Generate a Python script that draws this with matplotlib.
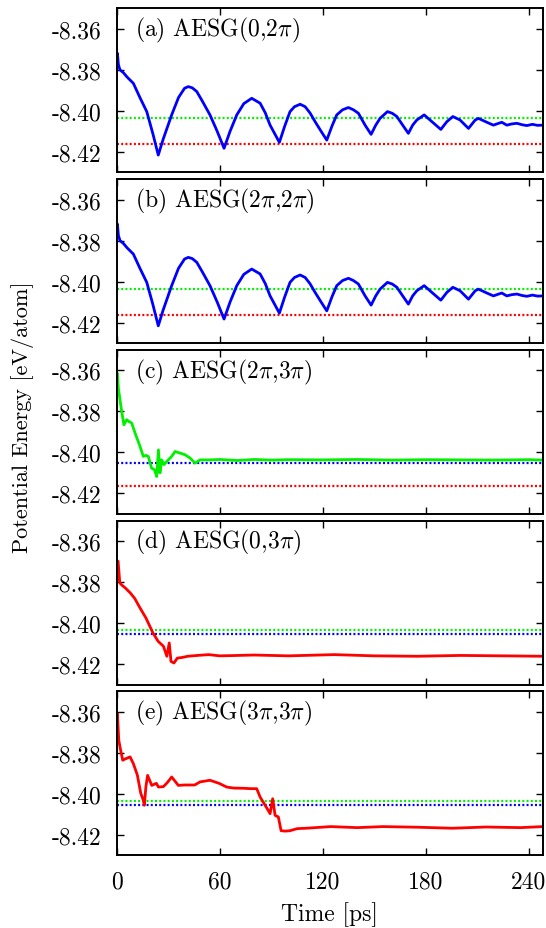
import numpy as np
import matplotlib
matplotlib.use('Agg')
import matplotlib.pyplot as plt

plt.rcParams['font.family'] = 'cmr10'
plt.rcParams['mathtext.fontset'] = 'cm'
plt.rcParams['axes.unicode_minus'] = False

# values (time in ps, energy in eV/atom)
time_ab = [0, 0.4, 1.0, 1.9, 4, 6, 9.7, 13.5, 17.5, 21, 24.2, 27, 32, 36, 39.5, 41.7, 44, 46.6,
           50, 54.3, 58.5, 62.5, 66, 69.9, 74, 78.6, 83.5, 86.5, 89.3, 92.2, 94.7, 97.8, 100.9,
           103.5, 106.8, 109.7, 112.5, 115.5, 119, 122.3, 125.3, 128.1, 131.5, 134.9, 137.8,
           140.7, 144.6, 148.1, 150.8, 153.3, 157.6, 160.4, 163.1, 166.5, 169.8, 172.3, 174.7,
           179, 183.5, 188.7, 192.2, 195.7, 199.9, 204.8, 208.7, 210.6, 215.5, 219.3, 222,
           224.2, 227.1, 230, 233, 236, 238.8, 242, 245, 248]
energy_a = [-8.3740, -8.3719, -8.3775, -8.3800, -8.3815, -8.3835, -8.3866, -8.3935, -8.4004,
            -8.4110, -8.4216, -8.4140, -8.4020, -8.3935, -8.3890, -8.3882, -8.3888, -8.3906,
            -8.3955, -8.4020, -8.4100, -8.4183, -8.4100, -8.4020, -8.3965, -8.3939, -8.3963,
            -8.4010, -8.4070, -8.4115, -8.4154, -8.4075, -8.4004, -8.3980, -8.3968, -8.3980,
            -8.4010, -8.4053, -8.4100, -8.4143, -8.4075, -8.4020, -8.3995, -8.3984, -8.3995,
            -8.4012, -8.4070, -8.4115, -8.4070, -8.4037, -8.4004, -8.4012, -8.4028, -8.4070,
            -8.4110, -8.4070, -8.4045, -8.4020, -8.4053, -8.4091, -8.4053, -8.4028, -8.4045,
            -8.4086, -8.4045, -8.4037, -8.4056, -8.4070, -8.4062, -8.4056, -8.4070, -8.4064,
            -8.4061, -8.4068, -8.4072, -8.4066, -8.4071, -8.4070]
energy_b = list(energy_a)

time_c = [0, 0.35, 1.0, 1.9, 2.9, 4.2, 5.8, 7.2, 8.7, 10.7, 13.6, 15.5, 17, 18.4, 20.3, 22,
          23.3, 24.3, 25.2, 26.2, 27.5, 29.1, 32, 34, 36.9, 39.8, 42.7, 45.6, 48.5, 54.3, 60,
          70, 80, 90, 100, 120, 140, 160, 180, 200, 220, 240, 248]
energy_c = [-8.3640, -8.3613, -8.3690, -8.3743, -8.3800, -8.3866, -8.3841, -8.3850, -8.3857,
            -8.3906, -8.3972, -8.4020, -8.4015, -8.4020, -8.4077, -8.4085, -8.4118, -8.3988,
            -8.4100, -8.4037, -8.4060, -8.4045, -8.4020, -8.3996, -8.4004, -8.4012, -8.4028,
            -8.4053, -8.4037, -8.4037, -8.4035, -8.4040, -8.4035, -8.4038, -8.4036, -8.4037,
            -8.4035, -8.4038, -8.4036, -8.4037, -8.4038, -8.4036, -8.4038]

time_d = [0, 0.8, 1.8, 3, 4.9, 7.9, 10.5, 13, 17, 21.1, 24.1, 27.2, 29.2, 30.6, 31.6, 33.3,
          35.3, 38, 41.4, 47, 53.5, 60, 65.7, 80, 100, 126.6, 150, 175, 200, 225, 248]
energy_d = [-8.3800, -8.3698, -8.3804, -8.3815, -8.3828, -8.3853, -8.3880, -8.3918, -8.3975,
            -8.4048, -8.4089, -8.4113, -8.4162, -8.4097, -8.4187, -8.4195, -8.4171, -8.4168,
            -8.4162, -8.4158, -8.4154, -8.4160, -8.4159, -8.4156, -8.4160, -8.4154, -8.4160,
            -8.4162, -8.4158, -8.4160, -8.4162]

time_e = [0, 0.4, 1.2, 1.9, 3.5, 5.5, 7.8, 9.7, 12, 14, 15.5, 16.1, 17, 18, 20.4, 23.1, 24.3,
          27.2, 29.5, 32, 35.9, 39.4, 45.4, 48.5, 54.3, 59.6, 64, 68, 73.8, 78, 81.5, 83.5,
          86.4, 88, 89.3, 90.8, 92.2, 94.1, 95.7, 98, 100.9, 105, 110.3, 124.5, 140, 155, 175,
          195.5, 215, 235, 248]
energy_e = [-8.3700, -8.3608, -8.3738, -8.3771, -8.3836, -8.3828, -8.3820, -8.3853, -8.3908,
            -8.3997, -8.4032, -8.4056, -8.3965, -8.3910, -8.3959, -8.3949, -8.3967, -8.3965,
            -8.3945, -8.3918, -8.3959, -8.3957, -8.3957, -8.3942, -8.3934, -8.3949, -8.3967,
            -8.3972, -8.3973, -8.3975, -8.3975, -8.4016, -8.4056, -8.4078, -8.4097, -8.4024,
            -8.4105, -8.4113, -8.4180, -8.4182, -8.4180, -8.4170, -8.4168, -8.4160, -8.4165,
            -8.4160, -8.4163, -8.4168, -8.4162, -8.4165, -8.4160]

# reference levels (dotted lines)
level_green = -8.4035
level_blue = -8.4053
level_red = -8.4164

panel_labels = [r'(a) AESG(0,2$\pi$)', r'(b) AESG(2$\pi$,2$\pi$)', r'(c) AESG(2$\pi$,3$\pi$)',
                r'(d) AESG(0,3$\pi$)', r'(e) AESG(3$\pi$,3$\pi$)']
yticks = [-8.36, -8.38, -8.40, -8.42]
ytick_labels = ['-8.36', '-8.38', '-8.40', '-8.42']
xticks = [0, 60, 120, 180, 240]

BLUE = '#0000ff'
GREEN = '#00f000'
RED = '#ff0000'

panels = [
    (time_ab, energy_a, BLUE, [(level_green, GREEN), (level_red, RED)]),
    (time_ab, energy_b, BLUE, [(level_green, GREEN), (level_red, RED)]),
    (time_c, energy_c, GREEN, [(level_blue, BLUE), (level_red, RED)]),
    (time_d, energy_d, RED, [(level_green, GREEN), (level_blue, BLUE)]),
    (time_e, energy_e, RED, [(level_green, GREEN), (level_blue, BLUE)]),
]

W, H = 546, 929
fig = plt.figure(figsize=(W / 100, H / 100), dpi=100)

left_px, right_px = 116.7, 542.7
top0, step, height = 9.3, 170.75, 164
FS = 17

for i, (t, e, col, levels) in enumerate(panels):
    top = top0 + step * i
    ax = fig.add_axes([left_px / W, 1 - (top + height) / H, (right_px - left_px) / W, height / H])
    for lev, lc in levels:
        ax.axhline(lev, color=lc, lw=1.6, ls=(0, (0.9, 1.0)), zorder=1)
    ax.plot(t, e, color=col, lw=2.0, zorder=2)
    ax.set_xlim(0, 248)
    ax.set_ylim(-8.43, -8.35)
    ax.set_yticks(yticks)
    ax.set_yticklabels(ytick_labels)
    ax.set_xticks(xticks)
    if i < 4:
        ax.set_xticklabels([])
    ax.tick_params(direction='in', length=5, width=1.0, top=True, right=True,
                   labelsize=FS, pad=11)
    for s in ax.spines.values():
        s.set_linewidth(1.4)
    ax.text(0.043, 0.87, panel_labels[i], transform=ax.transAxes, fontsize=FS,
            ha='left', va='center')

fig.text((left_px + right_px) / 2 / W, 1 - 915 / H, 'Time [ps]',
         fontsize=17, ha='center', va='center')
fig.text(22.5 / W, 1 - 417 / H, 'Potential Energy [eV/atom]', rotation=90,
         fontsize=16, ha='center', va='center')

fig.savefig('out.png', dpi=100)
